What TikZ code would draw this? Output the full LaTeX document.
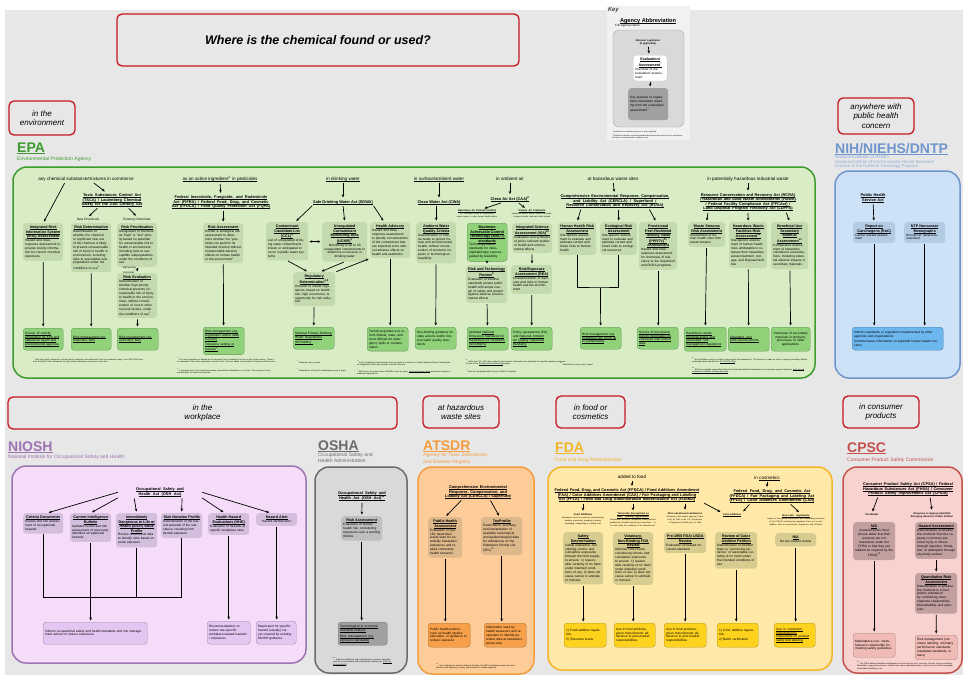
\documentclass[tikz,border=0pt]{standalone}
\usepackage{fontspec}
\setmainfont{Liberation Sans}
\usetikzlibrary{arrows.meta,positioning,calc}
\definecolor{cBg}{HTML}{E7E7E7}
\definecolor{cKey}{HTML}{F1F1F1}
\definecolor{cRed}{HTML}{C8171E}
\definecolor{cEpa}{HTML}{3E9B2E}
\definecolor{cEpaL}{HTML}{D8EDC6}
\definecolor{cEpaM}{HTML}{C3DAAE}
\definecolor{cEpaD}{HTML}{8FD27A}
\definecolor{cNih}{HTML}{6F95CD}
\definecolor{cNihL}{HTML}{CDE1F7}
\definecolor{cNihM}{HTML}{B3CCE3}
\definecolor{cNihD}{HTML}{6DB7EF}
\definecolor{cNio}{HTML}{9D73B3}
\definecolor{cNioL}{HTML}{F5DDF9}
\definecolor{cNioM}{HTML}{D3BFDD}
\definecolor{cNioD}{HTML}{E3C6F2}
\definecolor{cOsh}{HTML}{6B6B6B}
\definecolor{cOshL}{HTML}{D9D9D9}
\definecolor{cOshM}{HTML}{BFBFBF}
\definecolor{cOshD}{HTML}{A0A0A0}
\definecolor{cAts}{HTML}{F59D3D}
\definecolor{cAtsL}{HTML}{FDCC99}
\definecolor{cAtsM}{HTML}{DDB88B}
\definecolor{cAtsD}{HTML}{F8A049}
\definecolor{cFda}{HTML}{F3B526}
\definecolor{cFdaL}{HTML}{FFE9A8}
\definecolor{cFdaM}{HTML}{D6CC8F}
\definecolor{cFdaD}{HTML}{FFD21E}
\definecolor{cCps}{HTML}{C4514E}
\definecolor{cCpsL}{HTML}{F8D2CE}
\definecolor{cCpsM}{HTML}{C2A0A0}
\definecolor{cCpsD}{HTML}{F0BAB5}
\newcommand{\fh}{\fontsize{4.6}{5.4}\selectfont}
\newcommand{\fa}{\fontsize{3.9}{4.6}\selectfont\bfseries}
\newcommand{\fb}{\fontsize{3.7}{4.4}\selectfont\bfseries}
\newcommand{\fc}{\fontsize{3.2}{3.9}\selectfont}
\newcommand{\fs}{\fontsize{2.5}{3}\selectfont}
\newcommand{\fn}{\fontsize{2}{2.5}\selectfont}
% word-by-word underline that still breaks lines
\makeatletter
\newdimen\ult \ult=.25pt
\def\ulo{.13em}
\newcommand{\uline}[1]{\ul@a#1 \ul@end}
\def\ul@a#1 #2\ul@end{\ul@word{#1}\ifx\relax#2\relax\else\ul@gap\ul@a#2\ul@end\fi}
\def\ul@word#1{\setbox0\hbox{#1}\leavevmode\rlap{\vrule height -\ulo\space depth \dimexpr\ulo+\ult\relax width \wd0}\box0}
\def\ul@gap{\leaders\hrule height -\ulo\space depth \dimexpr\ulo+\ult\relax\hskip\fontdimen2\font plus\fontdimen3\font minus\fontdimen4\font}
\makeatother
\newcommand{\bt}[1]{{\centering\fb\uline{#1}\par}}
\newcommand{\agu}[1]{{\ult=1pt\def\ulo{.06em}\uline{#1}}}
\newcommand{\sups}[1]{\textsuperscript{#1}}
\tikzset{
  >={Stealth[length=3pt,width=2.6pt]},
  catbox/.style={draw=cRed,line width=1.3pt,rounded corners=5pt,fill=cBg,
                 align=center,inner sep=1pt,font=\fontsize{8}{9.5}\selectfont\itshape},
  agt/.style   ={anchor=base west,inner sep=0pt,font=\fontsize{14}{14}\selectfont\bfseries},
  ags/.style   ={anchor=base west,inner sep=0pt,align=left,font=\fontsize{5}{6.5}\selectfont},
  panel/.style ={line width=1.5pt,rounded corners=14pt},
  hd/.style    ={inner sep=1pt,font=\fh},
  act/.style   ={inner sep=1pt,align=center,font=\fa},
  asm/.style   ={anchor=north west,rounded corners=3pt,inner xsep=2pt,inner ysep=3pt,
                 align=left,font=\fc,fill=#1},
  res/.style   ={asm=#1,draw=#1!70!black,line width=.35pt},
  fnote/.style ={anchor=north west,inner sep=0pt,align=left,font=\fn},
  ar/.style    ={->,line width=.7pt,shorten >=1.5pt,shorten <=1pt},
  ln/.style    ={line width=.7pt},
}
\begin{document}
\begin{tikzpicture}[x=1pt,y=-1pt]
\useasboundingbox (0,0) rectangle (963,675);
\fill[white] (0,0) rectangle (963,675);
\fill[cBg] (5,10) rectangle (963,675);
% question and places
\node[catbox,minimum width=402pt,minimum height=52pt,font=\fontsize{12.5}{15}\selectfont\bfseries\itshape] (ttl) at (318,40) {Where is the chemical found or used?};
\node[catbox,minimum width=66pt,minimum height=34pt] (wenv) at (42,118) {in the\\environment};
\node[catbox,minimum width=76pt,minimum height=36pt] (wnih) at (876,116) {anywhere with\\public health\\concern};
\node[catbox,minimum width=389pt,minimum height=32pt] (wwork) at (202.5,413) {in the\\workplace};
\node[catbox,minimum width=76pt,minimum height=32pt] (wsite) at (461,412) {at hazardous\\waste sites};
\node[catbox,minimum width=69pt,minimum height=32pt] (wfood) at (590.5,412) {in food or\\cosmetics};
\node[catbox,minimum width=76pt,minimum height=32pt] (wcons) at (881,412) {in consumer\\products};
% key
\fill[cKey] (607,6) rectangle (690,140);
\node[anchor=north west,inner sep=0pt,font=\fontsize{6}{6}\selectfont\itshape] (key) at (608,7) {Key};
\node[anchor=base,inner sep=0pt,font=\fontsize{5.6}{6}\selectfont\bfseries] (kab) at (648,22) {\uline{Agency Abbreviation}};
\node[anchor=base west,inner sep=0pt,font=\fontsize{3}{3.5}\selectfont] (kfn) at (615,26.5) {Full Agency Name};
\draw[rounded corners=6pt,fill=cOshL,draw=gray!70,line width=.4pt] (613,30) rectangle (684,127);
\node[act,text width=44pt,font=\fs\bfseries] (kleg) at (648,42) {Relevant Legislation\\(if applicable)};
\node[asm=white,text width=30pt,draw=gray!50,line width=.3pt] (kev) at (633,55) {\bt{Evaluation/ Assessment\sups{*}}Overview of the evaluation/ assessment};
\node[asm=cOshD,text width=36pt,minimum height=32pt] (kout) at (628,88) {Key purpose or regulations/ standards resulting from the evaluation/ assessment\sups{**}};
\draw[ar] (kleg) -- (kev);
\draw[ar] (kev) -- (kev |- kout.north);
\node[fnote,text width=72pt,font=\fontsize{1.8}{2.2}\selectfont] (kfoot) at (612,129) {\sups{*}Underlined text indicates presence of active hyperlink\\\sups{**}Bolded text identifies regulatory/standard documents that result from the assessment; all others are informational or guidance only};
% EPA
\draw[panel,draw=cEpa,fill=cEpaL] (13,167) rectangle (815,378);
\node[agt,text=cEpa] (epa) at (17,152.5) {\agu{EPA}};
\node[ags,text=cEpa] (epan) at (17,160) {Environmental Protection Agency};
% in commerce
\node[hd] (hcom) at (86,179) {any chemical substance/mixtures in commerce};
\node[act,text width=82pt] (tsca) at (112,200) {\uline{Toxic Substances Control Act (TSCA) / Lautenberg Chemical Safety for the 21st Century Act}};
\node[hd,font=\fc] (newc) at (88,219.5) {New Chemicals};
\node[hd,font=\fc] (exic) at (137,219.5) {Existing Chemicals};
\node[asm=cEpaM,text width=36pt] (iris) at (23,223) {\bt{Integrated Risk Information System (IRIS) Assessment}Hazard and dose-response assessment to provide toxicity information for chronic chemical exposures};
\node[asm=cEpaM,text width=36pt] (rdet) at (71,223) {\bt{Risk Determination}Determination of whether the chemical or significant new use of the chemical is likely to present unreasonable risk of injury to health or environment, including risks to susceptible subpopulations under the conditions of use\sups{1}};
\node[asm=cEpaM,text width=36pt] (rpri) at (117,223) {\bt{Risk Prioritization}Designation of chemical as ``high'' or ``low'' priority based on potential for unreasonable risk to health or environment, including risks to susceptible subpopulations, under the conditions of use};
\node[asm=cEpaM,text width=36pt] (reva) at (117,273) {\bt{Risk Evaluation}Determination of whether high priority chemical presents unreasonable risk of injury to health or the environment, without consideration of cost or other non-risk factors, under the conditions of use\sups{1}};
\node[res=cEpaD,text width=36pt,minimum height=22pt] (iriso) at (23,328) {\uline{Source of toxicity information for EPA and state/local health and environmental agencies}};
\node[res=cEpaD,text width=36pt,minimum height=22pt] (rdeto) at (71,328) {\uline{Risk management (eg. restriction, ban)}};
\node[res=cEpaD,text width=37pt,minimum height=22pt] (revao) at (117,328) {\uline{Risk management (eg. restriction, ban)}};
\draw[ar] ([xshift=-21pt]hcom.south) -- (iris.north);
\draw[ar] ([xshift=7pt]hcom.south) -- ([xshift=-6pt]tsca.north);
\draw[ar] ([xshift=-14pt]tsca.south) -- (newc.north);
\draw[ar] ([xshift=16pt]tsca.south) -- (exic.north);
\draw[ar] (rpri) -- (reva) node[midway,left,align=center,font=\fs,inner sep=1pt]{high priority\\chemicals\sups{1}};
\draw[ar] (iris) -- (iriso);
\draw[ar] (rdet) -- (rdeto);
\draw[ar] (reva) -- (revao);
\node[fnote,text width=112pt] (fn1) at (33,357) {\sups{1} Only high priority chemicals, not low priority chemicals, are advanced to the risk evaluation stage. As of 2019 EPA must have at least 20 risk evaluations for high priority substances in process at any time.};
% pesticides
\node[hd] (hpes) at (220,179) {\uline{as an active ingredient\sups{2} in pesticides}};
\node[act,text width=124pt] (fifra) at (221,202) {\uline{Federal Insecticide, Fungicide, and Rodenticide Act (FIFRA) / Federal Food, Drug, and Cosmetic Act (FFDCA) / Food Quality Protection Act (FQPA)}};
\node[asm=cEpaM,text width=36pt] (pra) at (203,223) {\bt{Risk Assessment}Human \& ecological risk assessment to determine whether the ``pesticide can perform its intended function without unreasonable adverse effects on human health or the environment''};
\node[res=cEpaD,text width=37pt,minimum height=23pt] (prao) at (203,327) {\uline{Risk management (eg. registration and/or label revision)}\\[1.5pt]\uline{Tolerance setting or revision\sups{3}}};
\draw[ar] (hpes) -- (fifra);
\draw[ar] (fifra.south -| pra.north) -- (pra.north);
\draw[ar] (pra) -- (prao);
\node[fnote,text width=100pt] (fn2) at (177,357) {\sups{2} The active ingredient is defined as the chemical that is intended to be toxic to the target species. There is no evaluation of the other ingredients, termed ``inerts,'' that are added to the product to improve effectiveness.};
\node[fnote,text width=100pt] (fn3) at (177,368) {\sups{3} A tolerance level is the maximum residue concentration allowable on or in food. The tolerance is also needed when the foods are imported.};
% drinking water
\node[hd] (hdw) at (343,179) {\uline{in drinking water}};
\node[act] (sdwa) at (343,202) {\uline{Safe Drinking Water Act (SDWA)}};
\node[asm=cEpaM,text width=38pt] (ccl) at (266,222) {\bt{Contaminant Candidate List (CCL)\sups{4}}List of unregulated drinking water contaminants known or anticipated to occur in public water systems};
\node[asm=cEpaM,text width=41pt] (ucmr) at (322,222) {\bt{Unregulated Contaminant Monitoring Rule (UCMR)\sups{5}}{\centering Monitoring of up to 30 unregulated contaminants to determine occurrence in drinking water\par}};
\node[asm=cEpaM,text width=36pt] (ha) at (370,222) {\bt{Health Advisory}Hazard and dose-response assessment to identify concentrations of the contaminant that are expected to be without adverse effects on health and aesthetics};
\node[asm=cEpaM,text width=38pt] (regd) at (293,272) {\bt{Regulatory Determination\sups{6,8}}Decision to initiate regulations, based on health risk, high occurrence, \& opportunity for risk reduction};
\node[res=cEpaD,text width=37pt,minimum height=22pt] (regdo) at (293,327) {\uline{National Primary Drinking Water Regulations (NPDWRs)\sups{7}}};
\node[res=cEpaD,text width=37pt,minimum height=22pt] (hao) at (367,327) {Technical guidance to inform federal, state, and local officials for emergency spills or contamination};
\draw[ar] (hdw) -- (sdwa);
\draw[ar] ([xshift=-30pt]sdwa.south) -- ([xshift=8pt]ccl.north);
\draw[ar] (sdwa.south) -- (ucmr.north);
\draw[ar] ([xshift=30pt]sdwa.south) -- ([xshift=-6pt]ha.north);
\draw[ar,<->] (ccl) -- (ucmr);
\draw[ar] (ccl.south) -- ([xshift=-6pt]regd.north);
\draw[ar] (ucmr.south) -- ([xshift=6pt]regd.north);
\draw[ar] (regd.north east) -- (ha.south west);
\draw[ar] (regd) -- (regdo);
\draw[ar] (ha.south) -- (ha.south |- hao.north);
\node[fnote,text width=52pt] (fn4) at (297,360) {\sups{4} Required every 5 years};
\node[fnote,text width=52pt] (fn5) at (297,368) {\sups{5} Required for at least 30 contaminants every 5 years};
\node[fnote,text width=95pt] (fn6) at (357,360) {\sups{6} A Key Regulatory Determination does not result in a decision to initiate National Primary Drinking Water Regulations, EPA may consider a Health Advisory.};
\node[fnote,text width=95pt] (fn7) at (357,369) {\sups{7} EPA must review and revise NPDWRs every six years; \uline{Lead and Copper Rule} revisions are subject to additional requirements.};
% surface water
\node[hd] (hsw) at (439,179) {\uline{in surface/ambient water}};
\node[act,text width=46pt] (cwa) at (439,202) {\uline{Clean Water Act (CWA)}};
\node[asm=cEpaM,text width=36pt] (awqc) at (416,222) {\bt{Ambient Water Quality Criteria}Determination of criteria levels to protect human and environmental health, without consideration of economic impacts or technological feasibility};
\node[res=cEpaD,text width=37pt,minimum height=22pt] (awqco) at (415,327) {Non-binding guidance for state actions and/or federal water quality standards};
\draw[ar] (hsw) -- (cwa);
\draw[ar] (cwa.south -| awqc.north) -- (awqc.north);
\draw[ar] (awqc) -- (awqco);
% ambient air
\node[hd] (hair) at (510,179) {in ambient air};
\node[act,text width=40pt] (caa) at (510,199) {\uline{Clean Air Act (CAA)\sups{8}}};
\node[act,text width=44pt,font=\fs\bfseries] (haps) at (477,214) {\uline{Hazardous Air Pollutant (HAPs)}\\{\fn\mdseries 187 chemicals known or suspected to cause cancer or other serious health effects}};
\node[act,text width=44pt,font=\fs\bfseries] (cap) at (532,214) {\uline{Criteria Air Pollutants}\\{\fn\mdseries particulate matter, ozone, carbon monoxide, nitrogen dioxide, lead and sulfur dioxide}};
\node[res=cEpaD,text width=36pt] (mact) at (467,223) {\bt{Maximum Achievable Control Technology (MACT) standards}Technology based standards for industrial/stationary sources guided by feasibility};
\node[asm=cEpaM,text width=36pt] (isa) at (512,223) {\bt{Integrated Science Assessment (ISA)\sups{10}}Evaluation and synthesis of policy relevant studies of health and environmental effects};
\node[asm=cEpaM,text width=37pt] (rtr) at (466,265) {\bt{Risk and Technology Review\sups{9}}Evaluation of whether standards protect public health with ample margin of safety and protect against adverse environmental effects};
\node[asm=cEpaM,text width=37pt] (rea) at (511,265) {\bt{Risk/Exposure Assessment (REA)}Characterization of exposure and risks to human health and the environment};
\node[res=cEpaD,text width=37pt,minimum height=23pt] (rtro) at (467,327) {Updated \uline{National Emissions Standards for Hazardous Air Pollutants (NESHAPs)}};
\node[res=cEpaD,text width=37pt,minimum height=23pt] (reao) at (511,327) {Policy assessment (PA) and \uline{National Ambient Air Quality Standards (NAAQS)}};
\draw[ar] (hair) -- (caa);
\draw[ar] ([xshift=-8pt]caa.south) -- ([xshift=6pt]haps.north);
\draw[ar] ([xshift=8pt]caa.south) -- ([xshift=-6pt]cap.north);
\draw[ar] (mact) -- (rtr);
\draw[ar] (isa) -- (rea);
\draw[ar] (rtr) -- (rtro);
\draw[ar] (rea) -- (reao);
\node[fnote,text width=100pt] (fn8) at (466,359) {\sups{8} Under the CAA, EPA also conducts assessments of hazardous air pollutants for specific regulatory purposes, as part of the \uline{Residual Risk Assessment} program.};
\node[fnote,text width=100pt] (fn9) at (466,369) {\sups{9} Must be conducted within 8 years of MACT standards};
% hazardous waste sites
\node[hd] (hhw) at (613,179) {at hazardous waste sites};
\node[act,text width=122pt] (cerc) at (615,201) {\uline{Comprehensive Environmental Response, Compensation, and Liability Act (CERCLA) / Superfund / Resource Conservation and Recovery Act (RCRA)}};
\node[asm=cEpaM,text width=34pt] (hhra) at (558,222) {\bt{Human Health Risk Assessment}Site-specific assessment to evaluate and estimate current and future risks to human health};
\node[asm=cEpaM,text width=33pt] (eco) at (600,222) {\bt{Ecological Risk Assessment}Site-specific assessment to evaluate and estimate current and future risks to ecological resources};
\node[asm=cEpaM,text width=34pt] (pprtv) at (639,222) {\bt{Provisional Peer-Reviewed Toxicity Value (PPRTV)\sups{11} Assessment}Hazard and dose-response assessment for chemicals of relevance to the Superfund and RCRA programs};
\node[res=cEpaD,text width=37pt,minimum height=22pt] (sfo) at (580,327) {\uline{Risk management (eg. Superfund site clean-up or containment)}};
\node[res=cEpaD,text width=37pt,minimum height=22pt] (pprtvo) at (637,327) {\uline{Source of provisional toxicity information for chemicals with limited data}};
\coordinate (sfj) at (600.5,287);
\draw[ar] (hhw) -- (cerc);
\draw[ar] ([xshift=-34pt]cerc.south) -- (hhra.north);
\draw[ar] (cerc.south -| eco.north) -- (eco.north);
\draw[ar] ([xshift=34pt]cerc.south) -- ([xshift=-2pt]pprtv.north);
\draw[ln] (hhra.south) |- (sfj) -| (eco.south);
\draw[ar] (sfj) -- (sfo);
\draw[ar] (pprtv.south) -- (pprtv.south |- pprtvo.north);
\node[fnote,text width=45pt] (fn11) at (560,362) {\sups{11} Mandated to revise every 5 years};
% industrial waste
\node[hd] (hiw) at (748,179) {in potentially hazardous industrial waste};
\node[act,text width=104pt] (rcra) at (748,202) {\uline{Resource Conservation and Recovery Act (RCRA) / Hazardous and Solid Waste Amendments (HSWA) / Federal Facility Compliance Act (FFCAct) / Land Disposal Program Flexibility Act (LDPFA)}};
\node[asm=cEpaM,text width=33pt] (wsra) at (688,222) {\bt{Waste Streams Risk Assessment}Assessment of human health risks from waste streams};
\node[asm=cEpaM,text width=34pt] (hwf) at (729,222) {\bt{Hazardous Waste Facilities Risk Assessment\sups{12}}Site-specific assessment of human health risks attributable to releases from hazardous waste treatment, storage, and disposal facilities};
\node[asm=cEpaM,text width=33pt] (bu) at (771,222) {\bt{Beneficial Use Secondary Material Assessment\sups{13}}Comparative assessment of hazardous constituent concentrations, modeling potential adverse impacts in secondary materials};
\node[res=cEpaD,text width=38pt,minimum height=24pt] (wsrao) at (684,327) {\uline{Hazardous waste listing/de-listing and associated risk management regulations}};
\node[res=cEpaD,text width=37pt,minimum height=24pt] (hwfo) at (728,327) {\uline{Operating and post-closure permits}};
\node[res=cEpaD,text width=35pt,minimum height=24pt] (buo) at (771,327) {{\centering Use/reuse of secondary materials in products, processes, or other applications.\par}};
\draw[ar] (hiw) -- (rcra);
\draw[ar] ([xshift=-40pt]rcra.south) -- (wsra.north);
\draw[ar] (rcra.south) -- (hwf.north);
\draw[ar] ([xshift=38pt]rcra.south) -- (bu.north);
\draw[ar] (wsra) -- (wsrao);
\draw[ar] (hwf) -- (hwfo);
\draw[ar] (bu) -- (buo);
\node[fnote,text width=115pt] (fn12) at (692,357) {\sups{12} Not all facilities need to conduct a site-specific risk assessment. The decision is made by state or regional permitting officials evaluating factors identified in \uline{40 CFR 270.10(k)}.};
\node[fnote,text width=115pt] (fn13) at (692,367) {\sups{13} EPA has compiled several Beneficial Use Secondary Material Assessments of commonly recycled materials, \uline{such as coal combustion residuals and foundry sands}.};
% NIH
\draw[panel,draw=cNih,fill=cNihL] (835,171) rectangle (960,378);
\node[agt,text=cNih] (nih) at (835,153) {\agu{NIH/NIEHS/DNTP}};
\node[ags,anchor=north west,text=cNih!80,font=\fontsize{4.3}{4.3}\selectfont] (nihn) at (835,155.5) {National Institutes of Health/\\National Institute of Environmental Health Sciences/\\Division of the National Toxicology Program};
\node[act,text width=30pt] (phsa) at (873,198) {\uline{Public Health Service Act}};
\node[asm=cNihM,text width=38pt] (roc) at (853,222) {\bt{Report on Carcinogens (RoC)}Cancer hazard assessment};
\node[asm=cNihM,text width=37pt] (ntp) at (904,222) {\bt{NTP Noncancer Monographs}Noncancer hazard assessment};
\node[res=cNihD,text width=87pt,minimum height=23pt] (niho) at (852,327) {Informs standards or regulations implemented by other agencies and organizations\\[1.5pt]Communicates information on potential human health concerns};
\draw[ar] (phsa) -- (roc);
\draw[ar] (roc) -- (roc |- niho.north);
\draw[ar] (ntp) -- (ntp |- niho.north);
% NIOSH
\draw[panel,draw=cNio,fill=cNioL] (12,466) rectangle (306,663);
\node[agt,text=cNio] (niosh) at (8,451) {\agu{NIOSH}};
\node[ags,text=cNio] (nioshn) at (8,458) {National Institute for Occupational Safety and Health};
\node[act,text width=80pt] (osh) at (160,492) {\uline{Occupational Safety and Health Act (OSH Act)}};
\node[asm=cNioM,text width=36pt] (cd) at (23,513) {\bt{Criteria Documents}Review and risk assessment of occupational hazards};
\node[asm=cNioM,text width=37pt] (cib) at (70,513) {\bt{Current Intelligence Bulletin}Updated review and risk assessment of previously identified occupational hazards};
\node[asm=cNioM,text width=37pt] (idlh) at (116,513) {\bt{Immediately Dangerous to Life or Health (IDLH) Value Profile}Review of technical data to identify risks based on acute exposure};
\node[asm=cNioM,text width=37pt] (snp) at (161,513) {\bt{Skin Notation Profile}Determination of the hazard potential of the substance, resulting from dermal exposure};
\node[asm=cNioM,text width=37pt] (hhe) at (208,513) {\bt{Health Hazard Evaluations (HHE)}Evaluation of hazards at specific workplace sites};
\node[asm=cNioM,text width=37pt] (alert) at (256,513) {\bt{Hazard Alert}{\centering Hazard identification\par}};
\node[res=cNioD,text width=100pt,minimum height=22pt] (nio1) at (43,622) {Informs occupational safety and health standards and risk management actions to reduce exposures};
\node[res=cNioD,text width=39pt,minimum height=23pt] (nio2) at (207,621) {Recommendations to reduce site-specific workplace-related hazards / exposures};
\node[res=cNioD,text width=36pt,minimum height=23pt] (nio3) at (256,621) {Rapid alert for specific hazard (usually) not yet covered by existing NIOSH guidance};
\draw[ar] (osh.west) -- ([xshift=4pt]cd.north);
\draw[ar] (osh.south west) -- (cib.north);
\draw[ar] ([xshift=-26pt]osh.south) -- (idlh.north);
\draw[ar] ([xshift=22pt]osh.south) -- (snp.north);
\draw[ar] (osh.south east) -- ([xshift=-4pt]hhe.north);
\draw[ar] (osh.east) -- ([xshift=-6pt]alert.north);
\coordinate (nj) at (90.5,597);
\draw[ln] (cd.south) |- (nj);
\draw[ln] (idlh.south) |- (nj);
\draw[ln] (snp.south) |- (nj);
\draw[ar] (cib.south) -- (cib.south |- nio1.north);
\draw[ar] (hhe) -- (hhe |- nio2.north);
\draw[ar] (alert) -- (alert |- nio3.north);
% OSHA
\draw[panel,draw=cOsh,fill=cOshL] (315,467) rectangle (407,673);
\node[agt,text=cOsh] (osha) at (318,450) {\agu{OSHA}};
\node[ags,anchor=north west,text=cOsh] (oshan) at (318,452.5) {Occupational Safety and\\Health Administration};
\node[act,text width=80pt] (oshact) at (362,496) {\uline{Occupational Safety and Health Act (OSH Act)\sups{14}}};
\node[asm=cOshM,text width=37pt] (oshra) at (341,516) {\bt{Risk Assessment}Evaluation of human health risk, considering exposures over a working lifetime};
\node[res=cOshD,text width=45pt,minimum height=23pt] (oshao) at (338,622) {\uline{Technological \& economic feasibility analysis}\\[1.5pt]\uline{Risk management (eg. exposure standards)}};
\draw[ar] (oshact) -- (oshra);
\draw[ar] (oshra) -- (oshra |- oshao.north);
\node[fnote,text width=62pt] (fn14) at (333,657) {\sups{14} Subject to additional legal requirements; exposure standards must be technologically and economically feasible (see \uline{OSH Act, Section 6(b)(5)})};
% ATSDR
\draw[panel,draw=cAts,fill=cAtsL] (418,467) rectangle (534,674);
\node[agt,text=cAts] (atsdr) at (423,450.5) {\agu{ATSDR}};
\node[ags,anchor=north west,text=cAts] (atsdrn) at (423,453) {Agency for Toxic Substances\\and Disease Registry};
\node[act,text width=72pt] (cerc2) at (478,492) {\uline{Comprehensive Environmental Response, Compensation, and Liability Act (CERCLA) / Superfund}};
\node[asm=cAtsM,text width=30pt] (pha) at (428,517) {\bt{Public Health Assessment}Evaluation of specific hazardous waste sites for potentially hazardous exposures and related community health concerns};
\node[asm=cAtsM,text width=37pt] (tox) at (481,517) {\bt{ToxProfile}Examination, summary, and interpretation of available toxicological and epidemiological data for substances on the Substance Priority List (SPL)\sups{15}};
\node[res=cAtsD,text width=38pt,minimum height=24pt] (atso1) at (428,623) {Public health actions, such as health studies, education, or guidance to reduce exposure};
\node[res=cAtsD,text width=38pt,minimum height=24pt] (atso2) at (484,623) {Information used by health assessors and responders to identify potential risks at hazardous waste sites};
\draw[ar] ([xshift=-16pt]cerc2.south) -- (pha.north);
\draw[ar] ([xshift=12pt]cerc2.south) -- ([xshift=-2pt]tox.north);
\draw[ar] (pha) -- (pha |- atso1.north);
\draw[ar] (tox) -- (tox |- atso2.north);
\node[fnote,text width=80pt] (fn15) at (436,663) {\sups{15} List of substances found at National Priorities List (NPL) hazardous waste sites, prioritized by their frequency, toxicity, and potential for human exposure};
% FDA
\draw[panel,draw=cFda,fill=cFdaL] (548,467) rectangle (832,670);
\node[agt,text=cFda] (fda) at (555,452) {\agu{FDA}};
\node[ags,text=cFda] (fdan) at (555,461) {Food and Drug Administration};
\node[hd] (hfood) at (632,477) {added to food};
\node[act,text width=150pt] (ffdca1) at (627,495) {\uline{Federal Food, Drug, and Cosmetic Act (FFDCA) / Food Additives Amendment (FAA) / Color Additives Amendment (CAA) / Fair Packaging and Labeling Act (FPLA) / Food and Drug Administration Modernization Act (FDAMA)}};
\node[hd] (hcos) at (767,478) {in \uline{cosmetics}};
\node[act,text width=110pt] (ffdca2) at (772,496) {\uline{Federal Food, Drug, and Cosmetic Act (FFDCA) / Fair Packaging and Labeling Act (FPLA) / Color Additives Amendment (CAA)}};
\node[act,text width=44pt,font=\fs\bfseries] (fadd) at (583,519) {Food Additives\\{\fn\mdseries Substances used in producing, manufacturing, packing, processing, preparing, treating, packaging, transporting or holding food}};
\node[act,text width=46pt,font=\fs\bfseries] (gras) at (633,520) {\uline{``Generally Recognized as Safe'' (GRAS) Ingredients}\\{\fn\mdseries Substances ``generally recognized, among experts qualified by scientific training and experience\ldots\ to be safe under the conditions of its intended use''}};
\node[act,text width=48pt,font=\fs\bfseries] (prior) at (685,518) {Prior-sanctioned substances\\{\fn\mdseries Substances with explicit approval (``sanction'') by FDA or the U.S. Department of Agriculture (USDA) prior to 1958}};
\node[act,font=\fs\bfseries] (coladd) at (732,515) {\uline{Color additives}};
\node[act,text width=62pt,font=\fs\bfseries] (noncol) at (796,520) {\uline{Non-color ingredients}\\{\fn\mdseries Subject to the general adulteration and misbranding provisions of the FFDCA, including any ingredient that is not a color additive, such as preservatives, fragrances, and UV filters}};
\node[asm=cFdaM,text width=36pt] (sdet) at (563,532) {\bt{Safety Determination}Safety evaluation, considering chronic and cumulative exposures through the food supply, to ensure: 1) reasonable certainty of no harm under intended conditions of use; 2) does not cause cancer in animals or humans};
\node[asm=cFdaM,text width=36pt] (volr) at (613,532) {\bt{Voluntary, Non-Binding FDA Review}Optional FDA review, considering chronic and cumulative exposures to ensure: 1) reasonable certainty of no harm under intended conditions of use; 2) does not cause cancer in animals or humans.};
\node[asm=cFdaM,text width=38pt] (pre58) at (664,532) {\bt{Pre-1958 FDA/ USDA Review}Evaluation not based on current standard};
\node[asm=cFdaM,text width=38pt] (rcap) at (715,532) {\bt{Review of Color Additive Petition}Determination of whether there is ``convincing evidence'' of reasonable certainty of no harm under the intended conditions of use};
\node[asm=cFdaM,text width=37pt] (nacos) at (775,533) {\bt{N/A}{\centering No pre-market review\par}};
\node[res=cFdaD,text width=38pt,minimum height=24pt] (fo1) at (564,623) {1) Food additive regulation\\[2pt]2) Tolerance levels};
\node[res=cFdaD,text width=37pt,minimum height=24pt] (fo2) at (614,623) {Use in food products, given manufacturer adherence to post-market responsibilities};
\node[res=cFdaD,text width=38pt,minimum height=24pt] (fo3) at (664,623) {Use in food products, given manufacturer adherence to post-market responsibilities};
\node[res=cFdaD,text width=37pt,minimum height=24pt] (fo4) at (717,623) {1) Color additive regulation\\[2pt]2) Batch certification};
\node[res=cFdaD,text width=37pt,minimum height=24pt] (fo5) at (774,623) {\uline{Use in cosmetics: manufacturers responsible for product safety and labeling}};
\draw[ar] (hfood) -- (hfood |- ffdca1.north);
\draw[ar] (hcos) -- (hcos |- ffdca2.north);
\draw[ar] (ffdca1.south -| fadd) -- (fadd.north);
\draw[ar] (ffdca1.south -| gras) -- (gras.north);
\draw[ar] (ffdca1.south -| prior) -- (prior.north);
\draw[ar] (ffdca1.south east) -- (coladd.north west);
\draw[ar] ([xshift=-22pt]ffdca2.south) -- (coladd.north east);
\draw[ar] ([xshift=18pt]ffdca2.south) -- ([xshift=4pt]noncol.north);
\draw[ar] (sdet) -- (sdet |- fo1.north);
\draw[ar] (volr) -- (volr |- fo2.north);
\draw[ar] (pre58) -- (pre58 |- fo3.north);
\draw[ar] (rcap) -- (rcap |- fo4.north);
\draw[ar] (nacos) -- (nacos |- fo5.north);
% CPSC
\draw[panel,draw=cCps,fill=cCpsL] (843,467) rectangle (962,673);
\node[agt,text=cCps] (cpsc) at (847,452) {\agu{CPSC}};
\node[ags,text=cCps] (cpscn) at (847,461) {Consumer Product Safety Commission};
\node[act,text width=104pt] (cpsa) at (908,489) {\uline{Consumer Product Safety Act (CPSA) / Federal Hazardous Substances Act (FHSA) / Consumer Product Safety Improvement Act (CPSIA)}};
\node[act,font=\fs\bfseries] (premk) at (872,515) {Pre-Market};
\node[act,text width=58pt,font=\fs\bfseries] (resp) at (932,515) {Response to Agency-Identified Emerging Hazard or Public Petition};
\node[asm=cCpsM,text width=38pt] (cna) at (853,522) {\bt{N/A}{\centering (manufacturers must ensure either that their products are not hazardous under the FHSA or that they are labeled as required by the FHSA)\sups{16}\par}};
\node[asm=cCpsM,text width=38pt] (chaz) at (915,522) {\bt{Hazard Assessment}Determination of whether the chemical ``has the capacity to produce personal injury or illness through ingestion, inhalation, or absorption through any body surface''};
\node[asm=cCpsM,text width=38pt] (cqra) at (915,573) {\bt{Quantitative Risk Assessment}Determination of whether the chemical is a ``hazardous substance'' by considering dose-response relationships, bioavailability, and exposure.};
\node[res=cCpsD,text width=38pt,minimum height=24pt] (cpo1) at (853,633) {Marketplace use: manufacturers responsible for meeting safety guidelines};
\node[res=cCpsD,text width=38pt,minimum height=23pt] (cpo2) at (915,635) {Risk management (voluntary labeling, voluntary performance standards, mandated standards, or bans)};
\draw[ar] ([xshift=-30pt]cpsa.south) -- (premk.north);
\draw[ar] ([xshift=22pt]cpsa.south) -- (resp.north);
\draw[ar] (cna) -- (cna |- cpo1.north);
\draw[ar] (chaz) -- (cqra);
\draw[ar] (cqra) -- (cpo2);
\node[fnote,text width=100pt] (fn16) at (857,661) {\sups{16} The FHSA defines hazardous substances as those that are toxic, corrosive, irritants, strong sensitizers, flammable, or generate pressure, and that may cause substantial injury or illness as a result of reasonably foreseeable handling or use.};
\end{tikzpicture}
\end{document}
